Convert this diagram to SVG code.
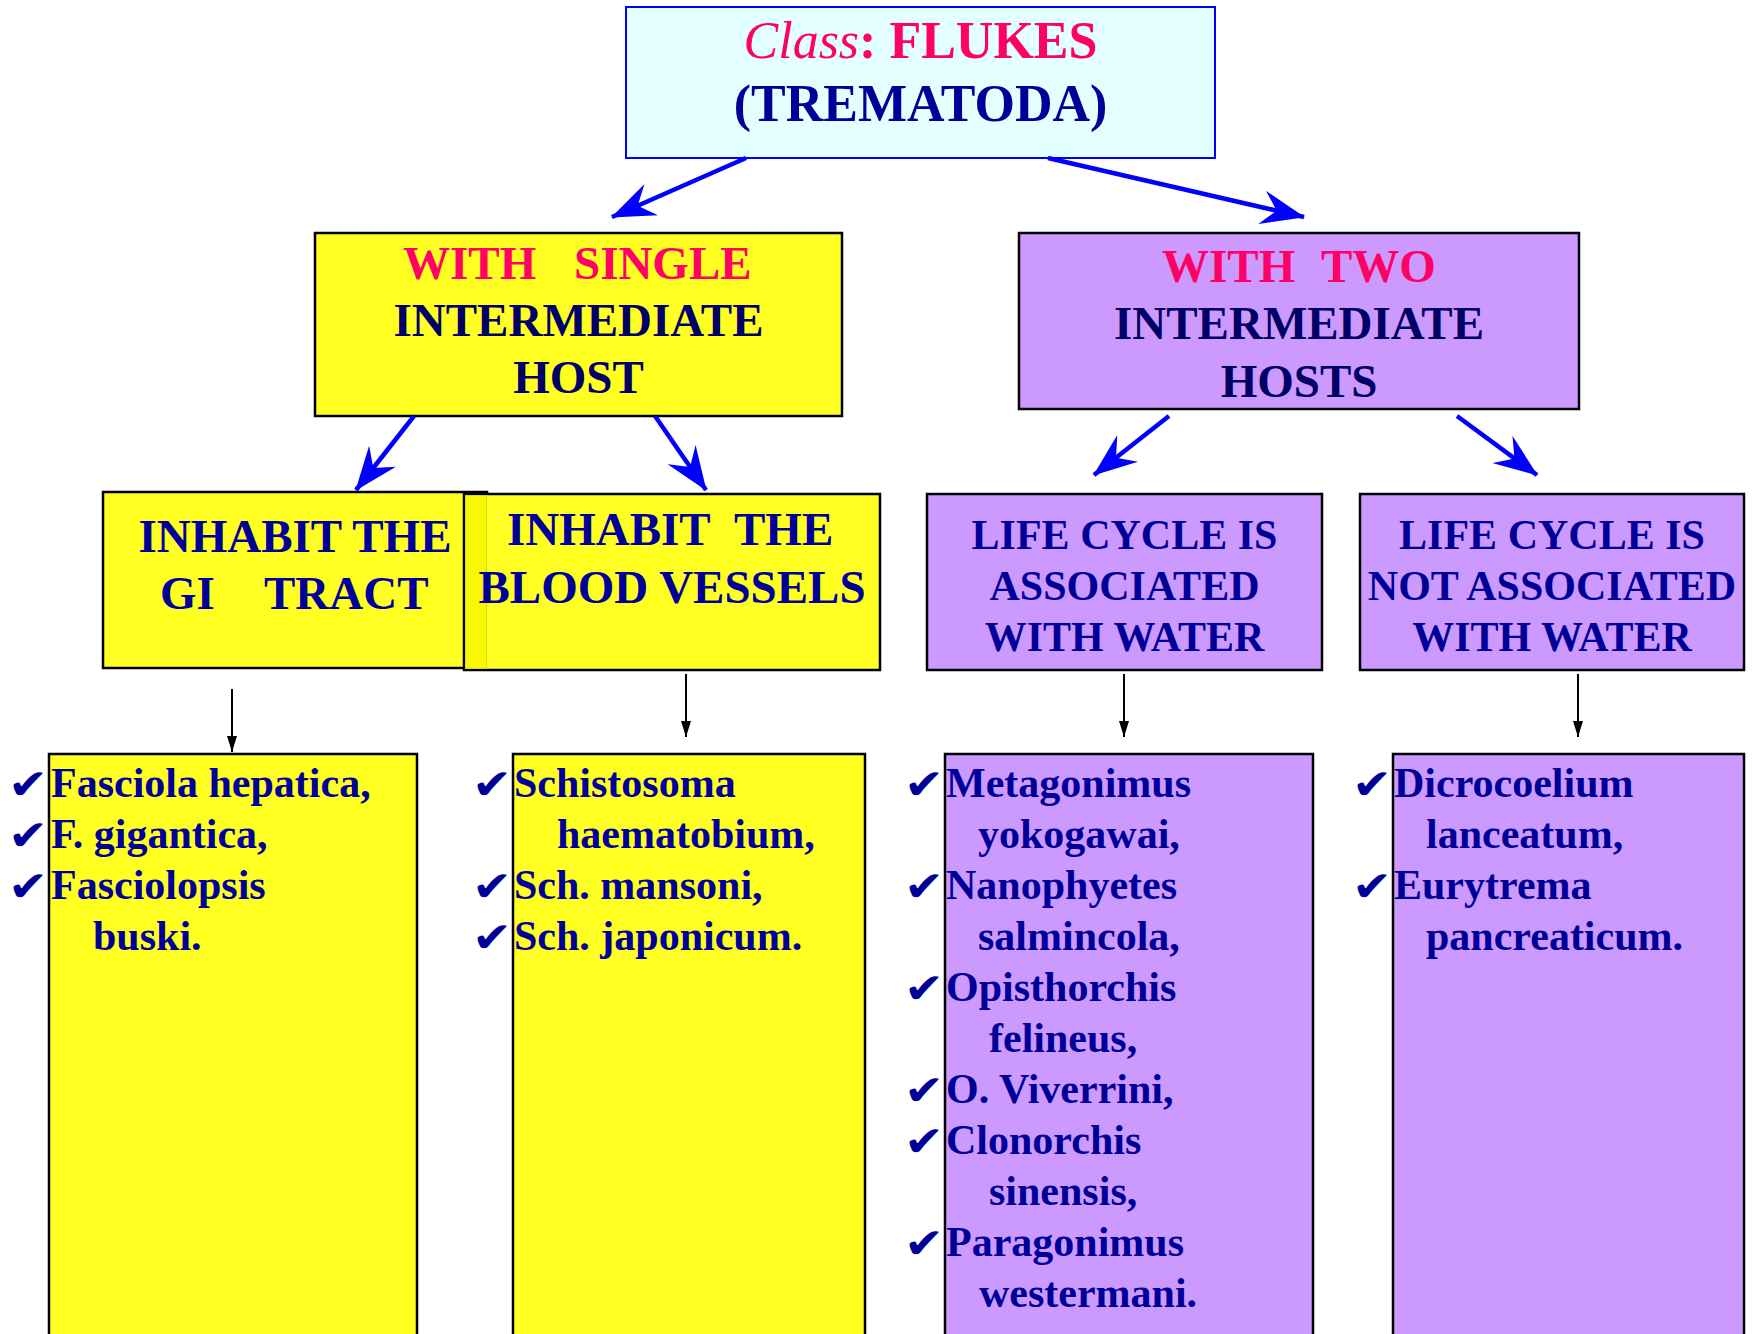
<svg xmlns="http://www.w3.org/2000/svg" width="1752" height="1334" viewBox="0 0 1752 1334">
<style>
.t{font-family:"Liberation Serif","Times New Roman",serif;font-weight:bold;}
.hd{font-size:47px;}
.lc{font-size:42px;}
.li{font-size:42px;fill:#000099;}
.ck{font-family:"DejaVu Sans",sans-serif;font-size:42px;fill:#000099;}
.navy{fill:#000066;}
.blue{fill:#000099;}
.pink{fill:#FF0066;}
.yel{fill:#FFFF22;stroke:#000;stroke-width:2.5;}
.pur{fill:#CC99FF;stroke:#000;stroke-width:2.5;}
.ba{stroke:#0000FF;stroke-width:4.5;fill:none;marker-end:url(#bh);}
.ka{stroke:#000;stroke-width:2;fill:none;marker-end:url(#kh);}
</style>
<defs>
<marker id="bh" viewBox="0 0 44 34" refX="43" refY="17" markerWidth="44" markerHeight="34" markerUnits="userSpaceOnUse" orient="auto">
<path d="M0,0 L44,17 L0,34 L15,17 Z" fill="#0000FF"/>
</marker>
<marker id="kh" viewBox="0 0 16 10" refX="16" refY="5" markerWidth="16" markerHeight="10" markerUnits="userSpaceOnUse" orient="auto">
<path d="M0,0 L16,5 L0,10 Z" fill="#000"/>
</marker>
</defs>
<rect width="1752" height="1334" fill="#fff"/>

<g id="top">
<rect x="626" y="7" width="589" height="151" fill="#E3FFFF" stroke="#0000FF" stroke-width="2"/>
<text class="t pink" x="920.5" y="58" font-size="52" text-anchor="middle"><tspan font-style="italic" font-weight="normal">Class</tspan>: FLUKES</text>
<text class="t blue" x="920.5" y="121" font-size="52" text-anchor="middle">(TREMATODA)</text>
</g>

<g id="single">
<rect class="yel" x="315" y="233" width="527" height="183"/>
<text class="t hd pink" x="403" y="279">WITH</text>
<text class="t hd pink" x="574" y="279">SINGLE</text>
<text class="t hd navy" x="578.5" y="336" text-anchor="middle">INTERMEDIATE</text>
<text class="t hd navy" x="578.5" y="393" text-anchor="middle">HOST</text>
</g>

<g id="two">
<rect class="pur" x="1019" y="233" width="560" height="176"/>
<text class="t hd pink" x="1162" y="282">WITH</text>
<text class="t hd pink" x="1321" y="282">TWO</text>
<text class="t hd navy" x="1299" y="339" text-anchor="middle">INTERMEDIATE</text>
<text class="t hd navy" x="1299" y="397" text-anchor="middle">HOSTS</text>
</g>

<g id="gi">
<rect class="yel" x="103" y="492" width="384" height="176"/>
<text class="t hd blue" x="295" y="552" text-anchor="middle">INHABIT THE</text>
<text class="t hd blue" x="160" y="609">GI</text>
<text class="t hd blue" x="264" y="609">TRACT</text>
</g>

<g id="blood">
<rect class="yel" x="464" y="494" width="416" height="176"/>
<rect x="465.5" y="495.5" width="21" height="173" fill="#F8F800" stroke="#DDDD00" stroke-width="1"/>
<text class="t hd blue" x="507" y="545">INHABIT</text>
<text class="t hd blue" x="734" y="545">THE</text>
<text class="t hd blue" x="672" y="603" text-anchor="middle">BLOOD VESSELS</text>
</g>

<g id="water">
<rect class="pur" x="927" y="494" width="395" height="176"/>
<text class="t lc blue" x="1124.5" y="549" text-anchor="middle">LIFE CYCLE IS</text>
<text class="t lc blue" x="1124.5" y="600" text-anchor="middle">ASSOCIATED</text>
<text class="t lc blue" x="1124.5" y="651" text-anchor="middle">WITH WATER</text>
</g>

<g id="nowater">
<rect class="pur" x="1360" y="494" width="384" height="176"/>
<text class="t lc blue" x="1552" y="549" text-anchor="middle">LIFE CYCLE IS</text>
<text class="t lc blue" x="1552" y="600" text-anchor="middle">NOT ASSOCIATED</text>
<text class="t lc blue" x="1552" y="651" text-anchor="middle">WITH WATER</text>
</g>

<g id="list1">
<rect class="yel" x="49" y="754" width="368" height="600"/>
<text class="ck" x="8" y="799" textLength="40" lengthAdjust="spacingAndGlyphs">✔</text>
<text class="t li" x="51" y="797">Fasciola hepatica,</text>
<text class="ck" x="8" y="850" textLength="40" lengthAdjust="spacingAndGlyphs">✔</text>
<text class="t li" x="51" y="848">F. gigantica,</text>
<text class="ck" x="8" y="901" textLength="40" lengthAdjust="spacingAndGlyphs">✔</text>
<text class="t li" x="51" y="899">Fasciolopsis</text>
<text class="t li" x="93" y="950">buski.</text>
</g>

<g id="list2">
<rect class="yel" x="513" y="754" width="352" height="600"/>
<text class="ck" x="472" y="799" textLength="40" lengthAdjust="spacingAndGlyphs">✔</text>
<text class="t li" x="514" y="797">Schistosoma</text>
<text class="t li" x="557" y="848">haematobium,</text>
<text class="ck" x="472" y="901" textLength="40" lengthAdjust="spacingAndGlyphs">✔</text>
<text class="t li" x="514" y="899">Sch. mansoni,</text>
<text class="ck" x="472" y="952" textLength="40" lengthAdjust="spacingAndGlyphs">✔</text>
<text class="t li" x="514" y="950">Sch. japonicum.</text>
</g>

<g id="list3">
<rect class="pur" x="945" y="754" width="368" height="600"/>
<text class="ck" x="904" y="799" textLength="40" lengthAdjust="spacingAndGlyphs">✔</text>
<text class="t li" x="946" y="797">Metagonimus</text>
<text class="t li" x="978" y="848">yokogawai,</text>
<text class="ck" x="904" y="901" textLength="40" lengthAdjust="spacingAndGlyphs">✔</text>
<text class="t li" x="946" y="899">Nanophyetes</text>
<text class="t li" x="978" y="950">salmincola,</text>
<text class="ck" x="904" y="1003" textLength="40" lengthAdjust="spacingAndGlyphs">✔</text>
<text class="t li" x="946" y="1001">Opisthorchis</text>
<text class="t li" x="989" y="1052">felineus,</text>
<text class="ck" x="904" y="1105" textLength="40" lengthAdjust="spacingAndGlyphs">✔</text>
<text class="t li" x="946" y="1103">O. Viverrini,</text>
<text class="ck" x="904" y="1156" textLength="40" lengthAdjust="spacingAndGlyphs">✔</text>
<text class="t li" x="946" y="1154">Clonorchis</text>
<text class="t li" x="989" y="1205">sinensis,</text>
<text class="ck" x="904" y="1258" textLength="40" lengthAdjust="spacingAndGlyphs">✔</text>
<text class="t li" x="946" y="1256">Paragonimus</text>
<text class="t li" x="979" y="1307">westermani.</text>
</g>

<g id="list4">
<rect class="pur" x="1393" y="754" width="351" height="600"/>
<text class="ck" x="1352" y="799" textLength="40" lengthAdjust="spacingAndGlyphs">✔</text>
<text class="t li" x="1394" y="797">Dicrocoelium</text>
<text class="t li" x="1426" y="848">lanceatum,</text>
<text class="ck" x="1352" y="901" textLength="40" lengthAdjust="spacingAndGlyphs">✔</text>
<text class="t li" x="1394" y="899">Eurytrema</text>
<text class="t li" x="1426" y="950">pancreaticum.</text>
</g>

<g id="connectors">
<line class="ba" x1="746" y1="158" x2="612" y2="217"/>
<line class="ba" x1="1048" y1="158" x2="1304" y2="217"/>
<line class="ba" x1="414" y1="416" x2="356" y2="490"/>
<line class="ba" x1="655" y1="416" x2="706" y2="490"/>
<line class="ba" x1="1169" y1="416" x2="1094" y2="475"/>
<line class="ba" x1="1457" y1="416" x2="1537" y2="475"/>
<line class="ka" x1="232" y1="689" x2="232" y2="752"/>
<line class="ka" x1="686" y1="674" x2="686" y2="737"/>
<line class="ka" x1="1124" y1="674" x2="1124" y2="737"/>
<line class="ka" x1="1578" y1="674" x2="1578" y2="737"/>
</g>
</svg>
